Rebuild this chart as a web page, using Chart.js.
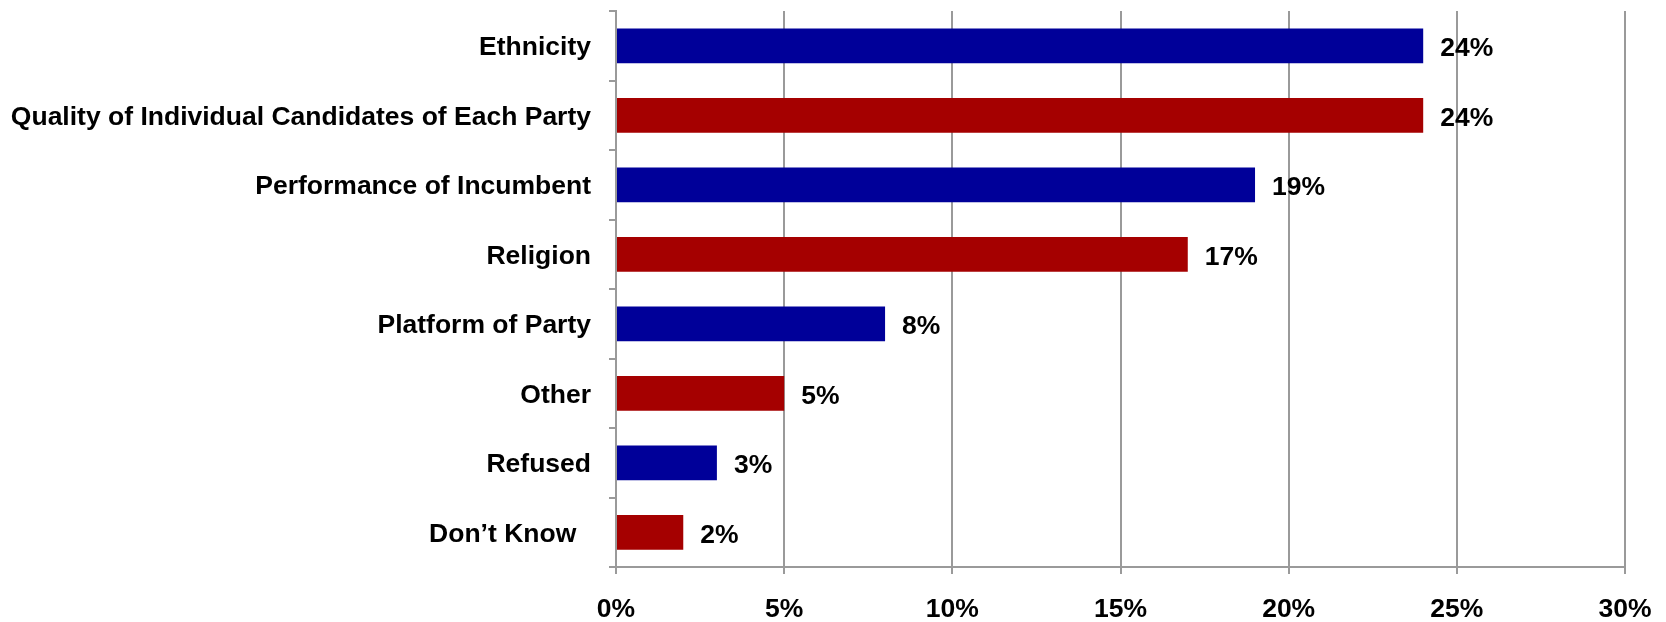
<!DOCTYPE html>
<html>
<head>
<meta charset="utf-8">
<script src="https://cdn.jsdelivr.net/npm/chart.js@4"></script>
<style>
  html, body { margin: 0; padding: 0; background: #ffffff; }
  #wrap { width: 1666px; height: 622px; }
</style>
</head>
<body>
<div id="wrap"><canvas id="c" width="1666" height="622"></canvas></div>
<script>
const categories = [
  "Ethnicity",
  "Quality of Individual Candidates of Each Party",
  "Performance of Incumbent",
  "Religion",
  "Platform of Party",
  "Other",
  "Refused",
  "Don\u2019t Know  "
];
const values = [24, 24, 19, 17, 8, 5, 3, 2];
const barColors = ["#000099", "#A50000", "#000099", "#A50000", "#000099", "#A50000", "#000099", "#A50000"];
const xTickMin = 0, xTickMax = 30, xTickStep = 5;

const FONT = "'Liberation Sans', Arial, sans-serif";
const FSIZE = 26.5;
const GRID = "#9a9a9a";

const valueLabels = {
  id: "valueLabels",
  afterDatasetsDraw(chart) {
    const ctx = chart.ctx;
    const meta = chart.getDatasetMeta(0);
    ctx.save();
    ctx.font = "bold " + FSIZE + "px " + FONT;
    ctx.fillStyle = "#000000";
    ctx.textAlign = "left";
    ctx.textBaseline = "middle";
    meta.data.forEach((bar, i) => {
      ctx.fillText(values[i] + "%", bar.x + 17, bar.y + 3);
    });
    ctx.restore();
  }
};

new Chart(document.getElementById("c"), {
  type: "bar",
  data: {
    labels: categories,
    datasets: [{
      data: values,
      backgroundColor: barColors,
      borderWidth: 0,
      categoryPercentage: 1.0,
      barPercentage: 0.5
    }]
  },
  options: {
    indexAxis: "y",
    responsive: false,
    animation: false,
    layout: { padding: { top: 11, right: 41, bottom: 0, left: 0 } },
    plugins: { legend: { display: false }, tooltip: { enabled: false } },
    scales: {
      x: {
        min: xTickMin,
        max: xTickMax,
        ticks: {
          stepSize: xTickStep,
          callback: v => v + "%",
          color: "#000000",
          font: { family: FONT, size: FSIZE, weight: "bold" },
          padding: 20,
          maxRotation: 0
        },
        grid: { color: GRID, lineWidth: 2, tickLength: 7, drawTicks: true },
        border: { display: true, color: GRID, width: 2 },
        afterFit(scale) { scale.height = 55; scale.paddingLeft = 0; scale.paddingRight = 0; }
      },
      y: {
        ticks: {
          color: "#000000",
          font: { family: FONT, size: FSIZE, weight: "bold" },
          padding: 18,
          labelOffset: 2,
          crossAlign: "near"
        },
        grid: { display: true, drawOnChartArea: false, drawTicks: true, tickLength: 7, color: GRID, lineWidth: 2, offset: true },
        border: { display: true, color: GRID, width: 2 },
        afterFit(scale) { scale.width = 616; scale.paddingTop = 0; scale.paddingBottom = 0; }
      }
    }
  },
  plugins: [valueLabels]
});
</script>
</body>
</html>
